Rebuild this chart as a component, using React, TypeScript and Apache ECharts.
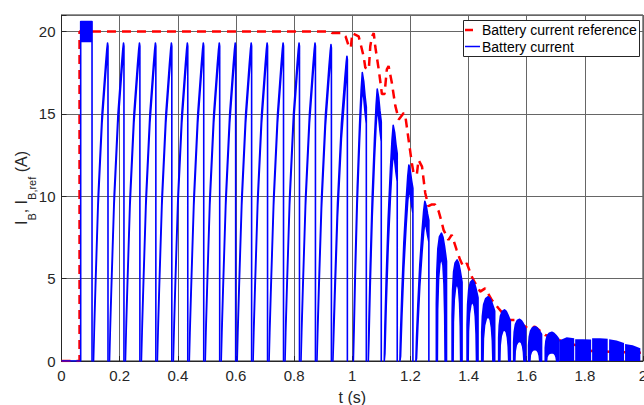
import React, { useEffect, useRef } from 'react';
import * as echarts from 'echarts';

const FONT = 'Liberation Sans, Arial, sans-serif';
const BLUE = '#0000ff';
const RED = '#ff0000';
const INK = '#262626';

// Axis ranges / ticks
const xMin = 0, xMax = 2, xStep = 0.2;
const yMin = 0, yMax = 21, yStep = 5;

// Battery current reference (red dashed)
const refT = [
  0, 0.062, 0.062, 0.925, 0.931, 0.965, 0.977, 0.988, 0.995, 1.000,
  1.022, 1.028, 1.039, 1.045, 1.057, 1.062, 1.068, 1.074, 1.079, 1.091,
  1.097, 1.102, 1.111, 1.119, 1.125, 1.136, 1.148, 1.160, 1.177, 1.182,
  1.194, 1.205, 1.211, 1.222, 1.228, 1.240, 1.251, 1.262, 1.274, 1.285,
  1.297, 1.308, 1.314, 1.331, 1.342, 1.359, 1.371, 1.382, 1.394, 1.411,
  1.423, 1.440, 1.457, 1.480, 1.503, 1.537, 1.560, 1.605, 1.628, 1.663,
  1.686, 1.730, 1.790, 1.823, 2.000,
];
const refV = [
  0, 0, 20, 20, 19.9, 19.9, 19.7, 19.1, 19.0, 19.9,
  19.7, 19.3, 18.5, 17.8, 17.7, 19.1, 19.7, 19.9, 19.1, 17.7,
  16.9, 16.2, 16.2, 17.7, 17.9, 16.9, 15.5, 14.65, 15.05, 14.95,
  13.4, 12.0, 11.4, 11.3, 12.2, 11.8, 10.2, 9.4, 9.5, 9.5,
  9.1, 8.4, 7.96, 7.35, 7.66, 6.75, 6.14, 5.73, 5.93, 5.12,
  4.72, 4.21, 4.41, 3.7, 3.2, 2.49, 2.49, 1.98, 2.08, 1.58,
  1.48, 1.13, 0.87, 0.6, 0.5,
];

// Battery current (blue): baseline before start
const baseT = [0, 0.066];
const baseV = [0, 0];

// first saturated block
const blockT = [0.066, 0.105];
const blockHi = 20.6;
const blockLo = 19.4;

// rising pulses (start, drop time, peak, ripple thickness)
const riseStart = [0.1102, 0.1651, 0.2199, 0.2748, 0.3297, 0.3846, 0.4395, 0.4944, 0.5493, 0.6042, 0.6590, 0.7139, 0.7688, 0.8237, 0.8786, 0.9335];
const riseEnd = [0.1599, 0.2148, 0.2696, 0.3245, 0.3794, 0.4343, 0.4892, 0.5441, 0.5990, 0.6539, 0.7087, 0.7636, 0.8185, 0.8734, 0.9283, 0.9832];
const risePeak = [19.3, 19.3, 19.3, 19.3, 19.3, 19.3, 19.3, 19.3, 19.3, 19.3, 19.3, 19.3, 19.3, 19.3, 19.2, 18.5];
const riseRipple = [0.6, 0.6, 0.6, 0.6, 0.6, 0.6, 0.6, 0.6, 0.6, 0.6, 0.6, 0.6, 0.6, 0.6, 0.7, 0.9];

// rising pulses with a rounded top (start, drop time, peak, ripple)
const midStart = [1.0038, 1.0552, 1.1101, 1.1640, 1.2189];
const midEnd = [1.0484, 1.0998, 1.1547, 1.2086, 1.2635];
const midPeak = [17.5, 16.5, 14.3, 11.9, 9.7];
const midRipple = [1.0, 1.2, 1.7, 1.5, 1.3];

// arched pulses (start, drop time, upper peak, lower envelope peak)
const archStart = [1.2892, 1.3434, 1.3949, 1.4453, 1.5036, 1.5551, 1.6065, 1.6638];
const archEnd = [1.3242, 1.3777, 1.4326, 1.4899, 1.5437, 1.5962, 1.6511, 1.7094];
const archPeak = [7.76, 6.14, 4.92, 3.9, 3.1, 2.53, 2.08, 1.74];
const archLow = [6.24, 4.7, 3.6, 2.7, 1.9, 1.2, 0.7, 0.5];

// final dense ripple blocks
const tailStart = [1.7118, 1.7667, 1.8250, 1.8834, 1.9383];
const tailEnd = [1.7633, 1.8216, 1.8786, 1.9348, 1.9908];
const tailTopL = [1.25, 1.32, 1.38, 1.32, 1.03];
const tailTopM = [1.44, 1.32, 1.38, 1.25, 0.95];
const tailTopR = [1.38, 1.30, 1.35, 1.10, 0.77];

// pulse shapes (fraction of pulse duration / of peak)
const riseU = [0, 0.05, 0.14, 0.32, 0.59, 0.83, 0.92, 0.97, 1.0];
const riseV = [0, 0.12, 0.26, 0.52, 0.78, 0.93, 0.98, 1.0, 0.99];
const midU = [0, 0.05, 0.15, 0.3, 0.48, 0.6, 0.69, 0.8, 0.9, 1.0];
const midV = [0, 0.15, 0.35, 0.6, 0.82, 0.94, 1.0, 0.97, 0.92, 0.88];
const archUpU = [0, 0, 0.05, 0.15, 0.3, 0.5, 0.65, 0.8, 0.92, 1.0];
const archUpV = [0, 0.45, 0.7, 0.88, 0.97, 1.0, 0.97, 0.9, 0.83, 0.78];
const archLoU = [0.1, 0.13, 0.22, 0.35, 0.5, 0.65, 0.75, 0.82, 0.86];
const archLoV = [0, 0.5, 0.8, 0.95, 1.0, 0.93, 0.75, 0.45, 0];

type Poly = { pts: number[][]; stroke: boolean };

function bandPulse(ts: number, te: number, P: number, r: number, U: number[], V: number[]): Poly {
  const d = te - ts;
  const up = U.map((u, j) => [ts + u * d, V[j] * P]);
  const lo = U.map((u, j) => [ts + u * d, Math.max(0, V[j] * P - r)]).reverse();
  return { pts: [...up, [te, 0], ...lo], stroke: true };
}

function buildPolys(): Poly[] {
  const polys: Poly[] = [];
  polys.push({
    pts: [
      [blockT[0], 0], [blockT[0], blockHi], [blockT[1], blockHi], [blockT[1], 0],
      [blockT[1], blockLo], [blockT[0], blockLo],
    ],
    stroke: true,
  });
  riseStart.forEach((ts, i) => {
    polys.push(bandPulse(ts, riseEnd[i], risePeak[i], riseRipple[i], riseU, riseV));
  });
  midStart.forEach((ts, i) => {
    polys.push(bandPulse(ts, midEnd[i], midPeak[i], midRipple[i], midU, midV));
  });
  archStart.forEach((ts, i) => {
    const te = archEnd[i], d = te - ts, P = archPeak[i], L = archLow[i];
    const up = archUpU.map((u, j) => [ts + u * d, archUpV[j] * P]);
    const lo = archLoU.map((u, j) => [ts + u * d, archLoV[j] * L]).reverse();
    polys.push({ pts: [...up, [te, 0], ...lo], stroke: true });
  });
  tailStart.forEach((ts, i) => {
    const te = tailEnd[i];
    polys.push({
      pts: [[ts, 0], [ts, tailTopL[i]], [(ts + te) / 2, tailTopM[i]], [te, tailTopR[i]], [te, 0]],
      stroke: false,
    });
  });
  return polys;
}

export default function App() {
  const ref = useRef<HTMLDivElement>(null);
  useEffect(() => {
    if (!ref.current) return;
    const chart = echarts.init(ref.current, undefined, { renderer: 'svg' });
    const polys = buildPolys();
    const option: any = {
      animation: false,
      backgroundColor: '#ffffff',
      grid: {
        left: 61.5, right: 1, top: 15, bottom: 44,
        outerBoundsMode: 'none',
        containLabel: false,
        show: true, borderColor: INK, borderWidth: 1, backgroundColor: 'transparent',
      },
      xAxis: {
        type: 'value', min: xMin, max: xMax, interval: xStep,
        name: 't (s)', nameLocation: 'middle', nameGap: 28, nameMoveOverlap: false,
        nameTextStyle: { fontFamily: FONT, fontSize: 16, color: INK },
        axisLine: { show: true, lineStyle: { color: INK, width: 1 } },
        axisTick: { show: true, inside: true, length: 5, lineStyle: { color: INK } },
        axisLabel: { fontFamily: FONT, fontSize: 15, color: INK, margin: 7 },
        splitLine: { show: true, lineStyle: { color: '#666666', width: 1 } },
      },
      yAxis: {
        type: 'value', min: yMin, max: yMax, interval: yStep,
        name: '{m|I}{s|B}{m|, I}{s|B,ref}{m| (A)}',
        nameLocation: 'middle', nameGap: 24, nameRotate: 90, nameMoveOverlap: false,
        nameTextStyle: {
          fontFamily: FONT, fontSize: 16, color: INK,
          rich: {
            m: { fontFamily: FONT, fontSize: 16, color: INK, lineHeight: 32, verticalAlign: 'middle' },
            s: { fontFamily: FONT, fontSize: 11, color: INK, lineHeight: 12, verticalAlign: 'bottom' },
          },
        },
        axisLine: { show: true, lineStyle: { color: INK, width: 1 } },
        axisTick: { show: true, inside: true, length: 5, lineStyle: { color: INK } },
        axisLabel: {
          fontFamily: FONT, fontSize: 15, color: INK, margin: 6,
          formatter: (v: number) => (v > 20 ? '' : String(v)),
        },
        splitLine: { show: true, lineStyle: { color: '#666666', width: 1 } },
      },
      series: [
        {
          name: 'Battery current reference',
          type: 'line',
          data: refT.map((t, i) => [t, refV[i]]),
          showSymbol: false,
          lineStyle: { color: RED, width: 2.5, type: [9, 6] },
          z: 2,
        },
        {
          name: 'Battery current base',
          type: 'line',
          data: baseT.map((t, i) => [t, baseV[i]]),
          showSymbol: false,
          lineStyle: { color: BLUE, width: 1.5 },
          z: 3,
        },
        {
          name: 'Battery current',
          type: 'custom',
          data: polys.map((p) => [p.pts[0][0], 0]),
          renderItem: (params: any, api: any) => {
            const poly = polys[params.dataIndex];
            return {
              type: 'polygon',
              shape: { points: poly.pts.map((p) => api.coord(p)) },
              style: {
                fill: BLUE,
                stroke: poly.stroke ? BLUE : 'none',
                lineWidth: poly.stroke ? 1.6 : 0,
                lineJoin: 'round',
              },
            };
          },
          z: 3,
        },
      ],
      graphic: [
        {
          type: 'rect', shape: { x: 463.5, y: 20.5, width: 176, height: 36 },
          style: { fill: '#ffffff', stroke: INK, lineWidth: 1 }, z: 100,
        },
        {
          type: 'line', shape: { x1: 465, y1: 30, x2: 473, y2: 30 },
          style: { stroke: RED, lineWidth: 2.5 }, z: 101,
        },
        {
          type: 'line', shape: { x1: 465, y1: 46.5, x2: 480, y2: 46.5 },
          style: { stroke: BLUE, lineWidth: 1.5 }, z: 101,
        },
        {
          type: 'text', x: 482, y: 30,
          style: { text: 'Battery current reference', font: `14px ${FONT}`, fill: '#000', verticalAlign: 'middle' },
          z: 101,
        },
        {
          type: 'text', x: 482, y: 47,
          style: { text: 'Battery current', font: `14px ${FONT}`, fill: '#000', verticalAlign: 'middle' },
          z: 101,
        },
      ],
    };
    chart.setOption(option);
    return () => chart.dispose();
  }, []);
  return (
    <div
      ref={ref}
      style={{ position: 'fixed', left: 0, top: 0, width: 644, height: 405, background: '#fff' }}
    />
  );
}
